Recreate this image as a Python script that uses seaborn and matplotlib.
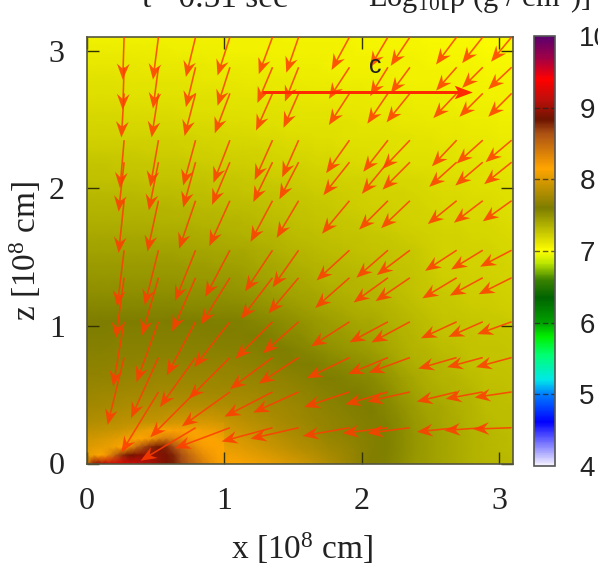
import numpy as np
import matplotlib
matplotlib.use("Agg")
import matplotlib.pyplot as plt
from matplotlib.colors import LinearSegmentedColormap
import seaborn as sns

# log10 density, rows from z=3.05 down to z=0.05, columns x=0.05 to 3.05
log_rho = [
    [7.07,7.07,7.07,7.07,7.07,7.07,7.07,7.07,7.06,7.06,7.06,7.06,7.06,7.06,7.05,7.05,7.05,7.05,7.05,7.04,7.04,7.04,7.04,7.04,7.03,7.03,7.03,7.03,7.02,7.02,7.02],
    [7.09,7.09,7.09,7.09,7.09,7.09,7.08,7.08,7.08,7.08,7.07,7.07,7.07,7.07,7.07,7.06,7.06,7.06,7.06,7.05,7.05,7.05,7.05,7.05,7.04,7.04,7.04,7.04,7.03,7.03,7.03],
    [7.11,7.11,7.11,7.11,7.10,7.10,7.10,7.10,7.10,7.09,7.09,7.09,7.09,7.08,7.08,7.08,7.08,7.07,7.07,7.07,7.07,7.06,7.06,7.06,7.05,7.05,7.05,7.05,7.04,7.04,7.04],
    [7.13,7.13,7.13,7.12,7.12,7.12,7.12,7.12,7.11,7.11,7.11,7.10,7.10,7.10,7.10,7.09,7.09,7.09,7.08,7.08,7.08,7.08,7.07,7.07,7.07,7.06,7.06,7.06,7.05,7.05,7.05],
    [7.15,7.15,7.15,7.14,7.14,7.14,7.14,7.13,7.13,7.13,7.12,7.12,7.12,7.11,7.11,7.11,7.10,7.10,7.10,7.10,7.09,7.09,7.09,7.08,7.08,7.08,7.07,7.07,7.06,7.06,7.06],
    [7.17,7.17,7.17,7.16,7.16,7.16,7.16,7.15,7.15,7.15,7.14,7.14,7.14,7.13,7.13,7.12,7.12,7.12,7.11,7.11,7.10,7.10,7.10,7.09,7.09,7.09,7.08,7.08,7.08,7.07,7.07],
    [7.19,7.19,7.19,7.18,7.18,7.18,7.18,7.17,7.17,7.17,7.16,7.16,7.15,7.15,7.14,7.14,7.14,7.13,7.13,7.12,7.12,7.12,7.11,7.11,7.10,7.10,7.10,7.09,7.09,7.08,7.08],
    [7.21,7.21,7.21,7.21,7.21,7.20,7.20,7.20,7.19,7.19,7.18,7.18,7.17,7.17,7.16,7.16,7.15,7.15,7.14,7.14,7.13,7.13,7.13,7.12,7.12,7.11,7.11,7.10,7.10,7.09,7.09],
    [7.24,7.24,7.24,7.24,7.23,7.23,7.23,7.22,7.22,7.21,7.21,7.20,7.20,7.19,7.18,7.18,7.17,7.17,7.16,7.16,7.15,7.15,7.14,7.14,7.13,7.13,7.12,7.12,7.11,7.11,7.10],
    [7.27,7.27,7.26,7.26,7.26,7.25,7.25,7.25,7.24,7.24,7.23,7.23,7.22,7.21,7.21,7.20,7.19,7.19,7.18,7.17,7.17,7.16,7.16,7.15,7.15,7.14,7.14,7.13,7.13,7.12,7.11],
    [7.29,7.29,7.29,7.29,7.28,7.28,7.28,7.27,7.27,7.26,7.26,7.25,7.25,7.24,7.24,7.23,7.22,7.22,7.21,7.20,7.20,7.19,7.18,7.18,7.17,7.16,7.16,7.15,7.14,7.13,7.12],
    [7.32,7.32,7.32,7.32,7.31,7.31,7.31,7.30,7.30,7.29,7.29,7.28,7.27,7.27,7.26,7.25,7.24,7.24,7.23,7.22,7.21,7.21,7.20,7.19,7.18,7.17,7.17,7.16,7.16,7.15,7.14],
    [7.34,7.34,7.34,7.34,7.34,7.34,7.33,7.33,7.32,7.32,7.31,7.31,7.30,7.29,7.28,7.27,7.26,7.25,7.24,7.23,7.22,7.22,7.21,7.20,7.19,7.18,7.18,7.17,7.17,7.16,7.15],
    [7.37,7.37,7.37,7.37,7.37,7.36,7.36,7.36,7.35,7.35,7.34,7.33,7.32,7.31,7.30,7.29,7.28,7.27,7.26,7.25,7.24,7.23,7.22,7.21,7.20,7.19,7.19,7.18,7.18,7.17,7.16],
    [7.40,7.40,7.40,7.40,7.40,7.39,7.39,7.39,7.38,7.38,7.37,7.36,7.35,7.34,7.32,7.31,7.30,7.29,7.28,7.27,7.26,7.25,7.24,7.23,7.22,7.21,7.20,7.19,7.19,7.18,7.17],
    [7.43,7.43,7.43,7.43,7.43,7.43,7.43,7.42,7.42,7.41,7.41,7.40,7.38,7.37,7.35,7.33,7.32,7.31,7.30,7.29,7.28,7.27,7.26,7.25,7.23,7.21,7.21,7.20,7.20,7.19,7.18],
    [7.46,7.46,7.46,7.46,7.46,7.46,7.46,7.45,7.45,7.44,7.44,7.43,7.41,7.40,7.38,7.36,7.34,7.33,7.32,7.31,7.30,7.29,7.27,7.26,7.24,7.22,7.22,7.21,7.21,7.20,7.19],
    [7.49,7.49,7.49,7.49,7.49,7.49,7.49,7.48,7.48,7.47,7.47,7.46,7.44,7.42,7.40,7.39,7.37,7.35,7.34,7.33,7.32,7.30,7.29,7.27,7.25,7.23,7.23,7.22,7.22,7.21,7.20],
    [7.52,7.52,7.52,7.52,7.52,7.52,7.52,7.51,7.51,7.51,7.50,7.49,7.47,7.45,7.43,7.42,7.40,7.38,7.36,7.35,7.34,7.32,7.30,7.28,7.26,7.25,7.24,7.23,7.23,7.22,7.21],
    [7.56,7.56,7.56,7.56,7.56,7.56,7.56,7.55,7.55,7.54,7.54,7.53,7.51,7.49,7.47,7.45,7.43,7.41,7.39,7.37,7.36,7.34,7.32,7.30,7.28,7.26,7.25,7.24,7.24,7.23,7.22],
    [7.60,7.60,7.60,7.60,7.60,7.61,7.60,7.60,7.60,7.59,7.59,7.58,7.56,7.54,7.52,7.50,7.47,7.45,7.43,7.41,7.40,7.37,7.35,7.32,7.30,7.28,7.27,7.26,7.25,7.25,7.24],
    [7.62,7.62,7.63,7.63,7.63,7.63,7.63,7.63,7.63,7.62,7.62,7.61,7.60,7.58,7.55,7.53,7.50,7.48,7.46,7.44,7.42,7.39,7.36,7.33,7.31,7.29,7.28,7.27,7.26,7.26,7.25],
    [7.64,7.64,7.65,7.65,7.65,7.65,7.65,7.65,7.65,7.65,7.64,7.64,7.63,7.61,7.59,7.57,7.54,7.51,7.49,7.47,7.45,7.42,7.38,7.35,7.33,7.31,7.30,7.28,7.27,7.27,7.26],
    [7.66,7.66,7.67,7.67,7.68,7.68,7.68,7.68,7.68,7.68,7.68,7.67,7.66,7.65,7.63,7.62,7.59,7.56,7.54,7.52,7.50,7.46,7.41,7.37,7.35,7.33,7.31,7.29,7.28,7.28,7.27],
    [7.69,7.69,7.70,7.71,7.71,7.72,7.72,7.72,7.72,7.72,7.71,7.71,7.70,7.69,7.67,7.65,7.63,7.60,7.58,7.56,7.54,7.50,7.45,7.40,7.37,7.35,7.33,7.31,7.29,7.29,7.28],
    [7.72,7.73,7.74,7.75,7.76,7.77,7.77,7.77,7.77,7.76,7.76,7.75,7.74,7.72,7.71,7.69,7.66,7.64,7.62,7.60,7.57,7.53,7.48,7.43,7.39,7.37,7.35,7.33,7.30,7.30,7.29],
    [7.76,7.77,7.78,7.80,7.81,7.82,7.83,7.83,7.83,7.83,7.82,7.80,7.78,7.76,7.74,7.72,7.69,7.66,7.64,7.62,7.60,7.56,7.51,7.46,7.42,7.40,7.37,7.34,7.31,7.30,7.30],
    [7.82,7.83,7.85,7.87,7.88,7.90,7.94,7.96,7.97,7.95,7.90,7.86,7.83,7.80,7.77,7.74,7.71,7.68,7.66,7.64,7.62,7.58,7.53,7.48,7.44,7.41,7.38,7.35,7.32,7.31,7.30],
    [7.88,7.90,7.92,7.94,7.98,8.05,8.10,8.12,8.14,8.05,7.98,7.94,7.90,7.86,7.82,7.78,7.74,7.70,7.67,7.65,7.63,7.59,7.54,7.49,7.45,7.42,7.39,7.36,7.33,7.32,7.31],
    [7.96,7.98,8.00,8.10,8.30,8.45,8.50,8.35,8.25,8.18,8.05,8.02,7.98,7.93,7.88,7.84,7.80,7.76,7.72,7.67,7.63,7.59,7.54,7.49,7.45,7.42,7.39,7.36,7.33,7.32,7.31],
    [8.05,8.30,8.60,8.90,9.00,8.95,8.85,8.70,8.50,8.30,8.15,8.12,8.08,8.05,8.00,7.95,7.88,7.82,7.76,7.68,7.62,7.58,7.53,7.48,7.45,7.42,7.39,7.36,7.33,7.33,7.32],
]

# finer cells near the origin, rows z=0.275 to 0.025, columns x=0.025 to 0.975
log_rho_core = [
    [7.82,7.83,7.84,7.85,7.85,7.86,7.87,7.88,7.88,7.89,7.90,7.92,7.94,7.95,7.95,7.96,7.97,7.97,7.96,7.95],
    [7.88,7.89,7.90,7.91,7.92,7.94,7.97,8.02,8.06,8.10,8.14,8.16,8.18,8.18,8.15,8.12,8.10,8.08,8.05,8.02],
    [7.95,7.96,7.98,8.00,8.03,8.06,8.10,8.14,8.18,8.25,8.35,8.40,8.35,8.28,8.22,8.18,8.17,8.16,8.12,8.08],
    [8.00,8.02,8.04,8.06,8.10,8.15,8.30,8.50,8.68,8.78,8.82,8.78,8.65,8.50,8.38,8.28,8.20,8.18,8.17,8.14],
    [8.05,8.10,8.14,8.30,8.55,8.75,8.85,8.90,8.95,8.95,8.92,8.88,8.78,8.65,8.52,8.40,8.30,8.22,8.18,8.16],
    [8.40,8.95,9.05,9.15,9.20,9.25,9.20,9.15,9.10,9.05,8.95,8.88,8.80,8.68,8.58,8.48,8.38,8.28,8.20,8.16],
]

# arrow tails sit on the same uneven grid in x and z
arrow_x = [0.27,0.52,0.79,1.04,1.35,1.54,1.91,2.19,2.35,2.69,2.88,3.09]
arrow_z = [3.10,2.88,2.69,2.35,2.19,1.91,1.55,1.35,1.03,0.77,0.52,0.26]

n = np.nan
arrow_u = [
    [-.01,-.04,-.07,-.09,-.10,-.09,-.13,-.13,-.14,-.15,-.15,-.15],
    [-.01,-.04,-.07,-.09,-.11,-.10,-.15,-.13,-.14,-.15,-.15,-.17],
    [-.02,-.05,-.08,-.11,-.12,-.11,-.15,-.15,-.17,-.17,-.17,-.17],
    [-.03,-.06,-.09,-.12,-.13,-.12,-.17,-.18,-.20,-.18,-.19,-.19],
    [-.04,-.07,-.09,-.13,-.14,-.14,-.19,-.19,-.20,-.20,-.20,-.20],
    [-.04,-.08,-.12,-.15,-.16,-.16,-.20,-.21,-.21,-.21,-.21,-.21],
    [-.05,-.10,-.15,-.18,-.20,-.19,-.24,-.23,-.24,-.23,-.23,-.23],
    [-.06,-.12,-.17,-.21,-.23,-.22,-.25,-.25,-.25,-.25,-.24,-.24],
    [-.08,-.16,-.21,-.26,-.27,-.26,-.28,-.28,-.28,-.26,-.25,-.25],
    [-.12,-.20,-.26,-.30,-.31,-.29,-.31,-.29,-.30,-.28,-.26,-.26],
    [n,-.27,-.33,-.35,-.35,-.33,-.33,-.31,-.31,-.29,-.27,-.27],
    [n,n,-.40,-.40,-.37,-.35,-.34,-.33,-.31,-.29,-.28,-.28],
]
arrow_w = [
    [-.31,-.31,-.29,-.28,-.27,-.26,-.24,-.22,-.21,-.20,-.19,-.18],
    [-.31,-.30,-.29,-.28,-.26,-.25,-.23,-.21,-.19,-.17,-.15,-.16],
    [-.32,-.32,-.31,-.29,-.27,-.25,-.23,-.22,-.21,-.18,-.17,-.17],
    [-.35,-.34,-.33,-.31,-.29,-.27,-.24,-.23,-.21,-.19,-.17,-.16],
    [-.36,-.35,-.33,-.31,-.29,-.27,-.24,-.23,-.20,-.18,-.17,-.16],
    [-.38,-.37,-.35,-.33,-.30,-.27,-.24,-.21,-.20,-.17,-.16,-.15],
    [-.41,-.40,-.37,-.34,-.30,-.27,-.22,-.20,-.18,-.15,-.14,-.12],
    [-.44,-.42,-.39,-.34,-.30,-.26,-.22,-.18,-.17,-.15,-.13,-.12],
    [-.47,-.44,-.39,-.33,-.27,-.23,-.18,-.15,-.15,-.12,-.11,-.09],
    [-.49,-.44,-.36,-.30,-.23,-.19,-.15,-.12,-.11,-.08,-.07,-.07],
    [n,-.44,-.33,-.25,-.18,-.15,-.11,-.09,-.07,-.07,-.05,-.04],
    [n,n,-.24,-.15,-.10,-.08,-.06,-.04,-.04,-.03,-.02,-.01],
]

ticks = [0, 1, 2, 3]
cbar_ticks = [4, 5, 6, 7, 8, 9, 10]

# colour stops
stop_values = [4.0,4.61,5.0,5.2,5.55,5.8,6.0,6.35,6.6,6.83,7.0,7.6,8.15,8.65,8.84,9.12,9.4,9.7,10.0]
stop_colors = ["#f6f2ff","#0000ff","#0080ff","#00e8e8","#00ff70","#00f000","#00a000","#006400","#3c8200",
               "#bce600","#ffff00","#7d7d00","#ffa500","#aa5014","#6e1400","#be0f0a","#ff0000","#a00046","#5a006e"]

sns.set_style("white")
plt.rcParams["font.family"] = ["Liberation Serif", "DejaVu Serif"]
plt.rcParams["mathtext.default"] = "regular"

W, H = 598, 574
fig = plt.figure(figsize=(W / 100, H / 100), dpi=100)

def px_axes(x0, y0, x1, y1, **kw):
    return fig.add_axes([x0 / W, 1 - y1 / H, (x1 - x0) / W, (y1 - y0) / H], **kw)

cmap = LinearSegmentedColormap.from_list(
    "rho", [((v - 4) / 6, c) for v, c in zip(stop_values, stop_colors)], N=512)

ax_map = px_axes(87, 37, 513, 463.5)
ax_cb = px_axes(534, 36, 555, 466)
sns.heatmap(np.array(log_rho), ax=ax_map, cmap=cmap, vmin=4, vmax=10, cbar_ax=ax_cb,
            xticklabels=False, yticklabels=False, shading="gouraud")
ax_map.set_xlim(0, 30)
ax_map.set_ylim(30, 0)
ax_map.tick_params(left=False, bottom=False)

# fine core region, 1.0 wide and 0.3 high out of 3.1
core_w = 426 * 1.0 / 3.1
core_h = 426.5 * 0.3 / 3.1
ax_core = px_axes(87, 463.5 - core_h, 87 + core_w, 463.5)
sns.heatmap(np.array(log_rho_core), ax=ax_core, cmap=cmap, vmin=4, vmax=10, cbar=False,
            xticklabels=False, yticklabels=False, shading="gouraud")
ax_core.set_xlim(0, 19)
ax_core.set_ylim(5, 0)
ax_core.tick_params(left=False, bottom=False)

ax = px_axes(87, 37, 513, 463.5)
ax.patch.set_alpha(0)
ax.set_xlim(0, 3.1)
ax.set_ylim(0, 3.1)

X, Z = np.meshgrid(arrow_x, arrow_z)
ax.quiver(X, Z, np.array(arrow_u), np.array(arrow_w), angles="xy", scale_units="xy", scale=1,
          color="#ff3c00", alpha=0.85, units="dots", width=1.6, headwidth=8, headlength=10,
          headaxislength=7, zorder=3)
ax.quiver([1.27], [2.70], [1.53], [0], angles="xy", scale_units="xy", scale=1, color="#ff2a00",
          units="dots", width=3, headwidth=4.5, headlength=6, headaxislength=5, zorder=4)
ax.text(2.10, 2.89, "c", fontsize=18, family=["Liberation Sans"], ha="center", va="center", color="#222222")

ax.set_xticks(ticks)
ax.set_yticks(ticks)
ax.tick_params(direction="in", length=8.5, width=1, color="#333300", top=True, right=True,
               labelsize=23, left=True, bottom=True, labelcolor="#222222")
ax.tick_params(axis="x", pad=17)
ax.tick_params(axis="y", pad=16)
for s in ax.spines.values():
    s.set_visible(True)
    s.set_color("#555540")
    s.set_linewidth(1.2)

fig.text(302 / W, 1 - 548 / H, "x [10$^{8}$ cm]", fontsize=24, ha="center", va="center", color="#222222")
fig.text(25 / W, 1 - 251 / H, "z [10$^{8}$ cm]", fontsize=24, ha="center", va="center", rotation=90, color="#222222")
fig.text(215 / W, 1 - 7 / H, "t =0.51 sec", fontsize=24, ha="center", va="baseline", color="#222222")
fig.text(479 / W, 1 - 7 / H, "Log$_{10}$[$\\rho$ (g / cm$^{3}$)]", fontsize=22, ha="center", va="baseline", color="#222222")

cbar = ax_map.collections[0].colorbar
cbar.set_ticks(cbar_ticks)
cbar.set_ticklabels([str(t) for t in cbar_ticks])
cbar.ax.tick_params(length=0, labelsize=20, pad=17.5, labelcolor="#222222")
for lab in cbar.ax.get_yticklabels():
    lab.set_family(["Liberation Sans"])
cbar.ax.hlines(cbar_ticks[1:-1], 0, 1, colors="#222222", linestyles=(0, (4, 2)), linewidth=1, alpha=0.7)
cbar.outline.set_visible(True)
cbar.outline.set_edgecolor("#555555")
cbar.outline.set_linewidth(1.2)

fig.savefig("out.png", dpi=100)
